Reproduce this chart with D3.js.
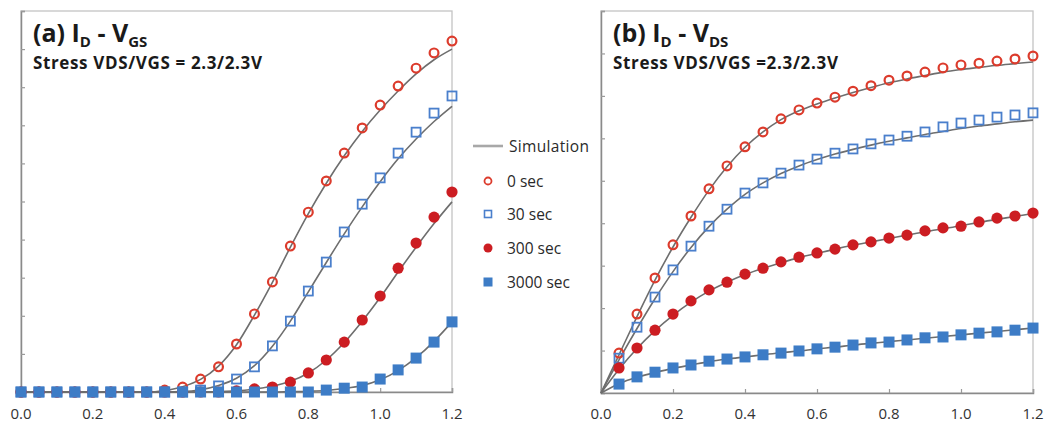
<!DOCTYPE html>
<html><head><meta charset="utf-8">
<script src="https://cdn.jsdelivr.net/npm/d3@7"></script>
<style>body{margin:0;background:#fff}svg{display:block}</style>
</head><body>
<script>
// ---- DATA ----
const seriesNames = ["0 sec", "30 sec", "300 sec", "3000 sec"];
const xTickLabels = ["0.0", "0.2", "0.4", "0.6", "0.8", "1.0", "1.2"];

// (a) ID - VGS, VGS = 0.00 .. 1.20 step 0.05
const vgs = [0,0.05,0.1,0.15,0.2,0.25,0.3,0.35,0.4,0.45,0.5,0.55,0.6,0.65,0.7,0.75,0.8,0.85,0.9,0.95,1.0,1.05,1.1,1.15,1.2];
const a_0s    = [0,0,0,0,0,0,0,0,0.05,0.13,0.34,0.66,1.26,2.05,2.89,3.83,4.72,5.54,6.27,6.93,7.53,8.03,8.50,8.90,9.21];
const a_30s   = [0,0,0,0,0,0,0,0,0,0,0.05,0.16,0.34,0.66,1.21,1.86,2.65,3.41,4.20,4.93,5.62,6.27,6.82,7.32,7.77];
const a_300s  = [0,0,0,0,0,0,0,0,0,0,0,0,0.03,0.08,0.13,0.26,0.50,0.84,1.31,1.89,2.52,3.25,3.91,4.59,5.25];
const a_3000s = [0,0,0,0,0,0,0,0,0,0,0,0,0,0,0,0,0,0.05,0.10,0.13,0.34,0.58,0.89,1.31,1.84];
const a_sim0    = [0,0,0,0,0,0,0,0,0.04,0.14,0.33,0.68,1.24,2.02,2.88,3.80,4.68,5.48,6.20,6.84,7.40,7.90,8.35,8.72,9.00];
const a_sim30   = [0,0,0,0,0,0,0,0,0,0.01,0.06,0.17,0.36,0.69,1.20,1.86,2.63,3.40,4.15,4.86,5.52,6.12,6.64,7.10,7.50];
const a_sim300  = [0,0,0,0,0,0,0,0,0,0,0,0.01,0.03,0.08,0.15,0.28,0.50,0.84,1.30,1.86,2.48,3.15,3.80,4.42,4.99];
const a_sim3000 = [0,0,0,0,0,0,0,0,0,0,0,0,0,0,0,0.01,0.02,0.04,0.09,0.17,0.32,0.56,0.90,1.33,1.84];

// (b) ID - VDS, VDS = 0.00 .. 1.20 step 0.05 (measured points start at 0.05)
const vds = [0,0.05,0.1,0.15,0.2,0.25,0.3,0.35,0.4,0.45,0.5,0.55,0.6,0.65,0.7,0.75,0.8,0.85,0.9,0.95,1.0,1.05,1.1,1.15,1.2];
const b_0s    = [null,0.94,1.86,2.71,3.49,4.17,4.81,5.35,5.80,6.15,6.46,6.67,6.83,6.97,7.11,7.24,7.37,7.47,7.56,7.66,7.73,7.77,7.82,7.87,7.94];
const b_30s   = [null,0.82,1.55,2.26,2.90,3.46,3.93,4.33,4.71,4.95,5.18,5.37,5.51,5.65,5.75,5.87,5.96,6.05,6.15,6.27,6.36,6.43,6.50,6.55,6.60];
const b_300s  = [null,0.59,1.06,1.48,1.86,2.17,2.43,2.61,2.80,2.94,3.09,3.20,3.30,3.39,3.49,3.56,3.65,3.72,3.82,3.89,3.93,4.03,4.12,4.17,4.24];
const b_3000s = [null,0.21,0.38,0.49,0.59,0.66,0.75,0.80,0.85,0.90,0.94,0.99,1.04,1.08,1.13,1.18,1.20,1.25,1.30,1.32,1.37,1.41,1.44,1.48,1.53];
const b_sim0    = [0,0.90,1.80,2.66,3.44,4.14,4.78,5.33,5.79,6.15,6.44,6.65,6.81,6.95,7.08,7.20,7.31,7.40,7.48,7.56,7.62,7.67,7.72,7.76,7.80];
const b_sim30   = [0,0.78,1.52,2.22,2.86,3.43,3.92,4.33,4.68,4.95,5.17,5.35,5.50,5.63,5.74,5.84,5.93,6.01,6.09,6.16,6.23,6.29,6.34,6.39,6.43];
const b_sim300  = [0,0.56,1.05,1.47,1.83,2.14,2.40,2.61,2.79,2.94,3.07,3.19,3.29,3.39,3.48,3.56,3.64,3.72,3.80,3.87,3.94,4.02,4.09,4.16,4.23];
const b_sim3000 = [0,0.22,0.37,0.48,0.58,0.66,0.74,0.80,0.85,0.90,0.95,0.99,1.04,1.08,1.13,1.17,1.21,1.25,1.29,1.33,1.37,1.41,1.45,1.49,1.53];

// ---- STYLE ----
const W = 1047, H = 423;
const styles = [
  {kind:"circle", filled:false, color:"#dc3b2c"},
  {kind:"square", filled:false, color:"#4a7fcc"},
  {kind:"circle", filled:true,  color:"#cc1d22"},
  {kind:"square", filled:true,  color:"#3d7cc6"}
];
const simColor = "#6e6e6e";
const font = "'Open Sans', sans-serif";

const svg = d3.select("body").append("svg").attr("width", W).attr("height", H)
  .style("background", "#fff");

function drawMarker(g, kind, filled, color, x, y) {
  if (kind === "circle") {
    if (filled) g.append("circle").attr("cx", x).attr("cy", y).attr("r", 5.6).attr("fill", color);
    else g.append("circle").attr("cx", x).attr("cy", y).attr("r", 4.4).attr("fill", "none")
          .attr("stroke", color).attr("stroke-width", 2.2);
  } else {
    if (filled) g.append("rect").attr("x", x - 5.5).attr("y", y - 5.5).attr("width", 11).attr("height", 11).attr("fill", color);
    else g.append("rect").attr("x", x - 4.5).attr("y", y - 4.5).attr("width", 9).attr("height", 9)
          .attr("fill", "none").attr("stroke", color).attr("stroke-width", 1.8);
  }
}

function panel(cfg) {
  const x = d3.scaleLinear().domain([0, 1.2]).range([cfg.x0, cfg.x1]);
  const y = d3.scaleLinear().domain([0, cfg.ymax]).range([cfg.yb, cfg.yt]);
  const g = svg.append("g");

  // frame
  g.append("rect").attr("x", cfg.x0).attr("y", cfg.yt).attr("width", cfg.x1 - cfg.x0)
    .attr("height", cfg.yb - cfg.yt).attr("fill", "none").attr("stroke", "#c4c4c4").attr("stroke-width", 1.3);

  // y axis (ticks inside, no labels)
  const ya = g.append("g").attr("transform", `translate(${cfg.x0},0)`)
    .call(d3.axisRight(y).ticks(cfg.ymax).tickSize(4).tickFormat(""));
  ya.select(".domain").attr("stroke", "#8a8a8a").attr("stroke-width", 1.5);
  ya.selectAll(".tick line").attr("stroke", "#9a9a9a").attr("stroke-width", 1.2);

  // x axis
  const xa = g.append("g").attr("transform", `translate(0,${cfg.yb})`)
    .call(d3.axisTop(x).tickValues(xTickLabels.map(Number)).tickSize(4).tickFormat(""));
  xa.select(".domain").attr("stroke", "#8a8a8a").attr("stroke-width", 1.5);
  xa.selectAll(".tick line").attr("stroke", "#9a9a9a").attr("stroke-width", 1.2);
  g.selectAll(".xl").data(xTickLabels).enter().append("text")
    .attr("x", d => x(+d)).attr("y", 419).attr("text-anchor", "middle")
    .attr("font-family", font).attr("font-size", 15).attr("fill", "#333").text(d => d);

  // simulation lines
  const line = d3.line().x((d, i) => x(cfg.xs[i])).y(d => y(d)).curve(d3.curveMonotoneX);
  cfg.sims.forEach(s => {
    g.append("path").attr("d", line(s)).attr("fill", "none").attr("stroke", simColor).attr("stroke-width", 1.6);
  });

  // measured markers
  cfg.meas.forEach((s, k) => {
    const st = styles[k];
    s.forEach((v, i) => { if (v !== null) drawMarker(g, st.kind, st.filled, st.color, x(cfg.xs[i]), y(v)); });
  });

  // titles
  const t = g.append("text").attr("x", cfg.x0 + 12).attr("y", 42)
    .attr("font-family", font).attr("font-weight", "bold").attr("font-size", 25).attr("fill", "#1a1a1a");
  t.append("tspan").text(cfg.letter + " I");
  t.append("tspan").attr("font-size", 15).attr("dy", 5).text("D");
  t.append("tspan").attr("dy", -5).text(" - V");
  t.append("tspan").attr("font-size", 15).attr("dy", 5).text(cfg.sub);
  g.append("text").attr("x", cfg.x0 + 12).attr("y", 69)
    .attr("font-family", font).attr("font-weight", "bold").attr("font-size", 17).attr("fill", "#1a1a1a")
    .attr("textLength", cfg.subW).attr("lengthAdjust", "spacing").text(cfg.subtitle);
}

panel({x0: 21, x1: 452, yt: 11, yb: 392, ymax: 10, xs: vgs,
  sims: [a_sim0, a_sim30, a_sim300, a_sim3000], meas: [a_0s, a_30s, a_300s, a_3000s],
  letter: "(a)", sub: "GS", subtitle: "Stress VDS/VGS = 2.3/2.3V", subW: 229});
panel({x0: 601, x1: 1033, yt: 11, yb: 393, ymax: 9, xs: vds,
  sims: [b_sim0, b_sim30, b_sim300, b_sim3000], meas: [b_0s, b_30s, b_300s, b_3000s],
  letter: "(b)", sub: "DS", subtitle: "Stress VDS/VGS =2.3/2.3V", subW: 225});

// legend
const lg = svg.append("g");
const ly = [146, 181, 214, 248, 282];
lg.append("line").attr("x1", 473).attr("x2", 503).attr("y1", ly[0]).attr("y2", ly[0])
  .attr("stroke", "#a8a8a8").attr("stroke-width", 2.6);
lg.append("text").attr("x", 509).attr("y", ly[0] + 5.5).attr("font-family", font).attr("font-size", 15.5)
  .attr("fill", "#2a2a2a").attr("textLength", 80).attr("lengthAdjust", "spacing").text("Simulation");
seriesNames.forEach((n, k) => {
  const st = styles[k];
  const yy = ly[k + 1];
  if (st.kind === "circle") {
    if (st.filled) lg.append("circle").attr("cx", 488).attr("cy", yy).attr("r", 4.5).attr("fill", st.color);
    else lg.append("circle").attr("cx", 488).attr("cy", yy).attr("r", 3.5).attr("fill", "none").attr("stroke", st.color).attr("stroke-width", 1.8);
  } else {
    if (st.filled) lg.append("rect").attr("x", 483.5).attr("y", yy - 4.5).attr("width", 9).attr("height", 9).attr("fill", st.color);
    else lg.append("rect").attr("x", 484.5).attr("y", yy - 3.5).attr("width", 7).attr("height", 7).attr("fill", "none").attr("stroke", st.color).attr("stroke-width", 1.6);
  }
  lg.append("text").attr("x", 507).attr("y", yy + 5.5).attr("font-family", font).attr("font-size", 15.5)
    .attr("fill", "#2a2a2a").text(n);
});
</script>
</body></html>
